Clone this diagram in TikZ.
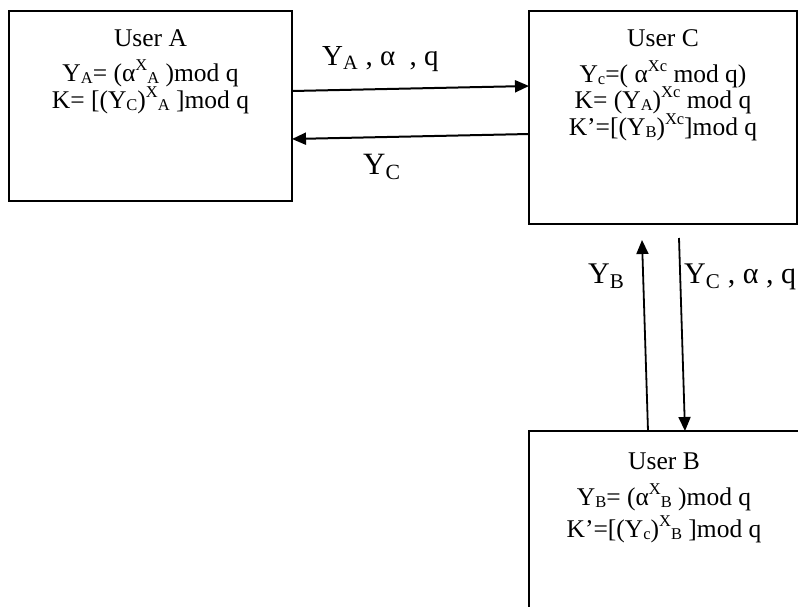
\documentclass[tikz,border=0pt]{standalone}
\usepackage{fontspec}
\setmainfont{Liberation Serif}
\usetikzlibrary{arrows.meta, positioning, calc}
\newcommand{\hi}[1]{\raisebox{0.4em}{\fontsize{16.5}{17}\selectfont #1}}
\newcommand{\lo}[1]{\raisebox{-0.08em}{\fontsize{16.5}{17}\selectfont #1}}

\begin{document}
\begin{tikzpicture}[
  x=1pt, y=-1pt,
  user/.style={
    rectangle, draw=black, line width=1.2pt,
    inner sep=0pt, outer sep=0pt, anchor=north west
  },
  eqn/.style={anchor=base, inner sep=0pt, font=\fontsize{25.5}{28}\selectfont},
  msg/.style={anchor=base west, inner sep=0pt, font=\fontsize{29}{32}\selectfont},
  >={Triangle[length=14pt, width=12pt]}
]
\useasboundingbox (0,0) rectangle (798,606);
\clip (0,0) rectangle (798,606);

% the three users
\node[user, minimum width=283pt, minimum height=190pt] (boxA) at (9,11) {};
\node[user, minimum width=268pt, minimum height=213pt, right=237pt of boxA.north east, anchor=north west] (boxC) {};
\node[user, minimum width=300pt, minimum height=240pt, below=207pt of boxC.south west, anchor=north west] (boxB) {};

\node[eqn] (a1) at ($(boxA.north)+(0,35)$) {User A};
\node[eqn] (a2) at ($(boxA.north)+(0,70)$) {Y\lo{A}= (α\hi{X}\lo{A} )mod q};
\node[eqn] (a3) at ($(boxA.north)+(0,97)$) {K= [(Y\lo{C})\hi{X}\lo{A} ]mod q};

\node[eqn] (c1) at ($(boxC.north)+(0,35)$) {User C};
\node[eqn] (c2) at ($(boxC.north)+(0,71)$) {Y\lo{c}=( α\hi{Xc} mod q)};
\node[eqn] (c3) at ($(boxC.north)+(0,97)$) {K= (Y\lo{A})\hi{Xc} mod q};
\node[eqn] (c4) at ($(boxC.north)+(0,124)$) {K’=[(Y\lo{B})\hi{Xc}]mod q};

\node[eqn] (b1) at ($(boxB.north west)+(135,38)$) {User B};
\node[eqn] (b2) at ($(boxB.north west)+(135,74)$) {Y\lo{B}= (α\hi{X}\lo{B} )mod q};
\node[eqn] (b3) at ($(boxB.north west)+(135,106)$) {K’=[(Y\lo{c})\hi{X}\lo{B} ]mod q};

% messages
\draw[->, line width=2pt] ($(boxA.north east)+(0,80)$) -- ($(boxC.north west)+(0,75)$);
\draw[->, line width=2pt] ($(boxC.north west)+(0,123)$) -- ($(boxA.north east)+(0,128)$);
\draw[->, line width=1.8pt] ($(boxB.north west)+(119,0)$) -- ($(boxC.south west)+(113,16)$);
\draw[->, line width=1.8pt] ($(boxC.south west)+(150,14)$) -- ($(boxB.north west)+(156,0)$);

\node[msg] (lblAC) at (322,65) {Y\textsubscript{A} , α~~, q};
\node[msg, font=\fontsize{31}{34}\selectfont] (lblCA) at (363,174) {Y\textsubscript{C}};
\node[msg, font=\fontsize{30}{33}\selectfont] (lblBC) at (588,283) {Y\textsubscript{B}};
\node[msg, font=\fontsize{30}{33}\selectfont] (lblCB) at (684,283) {Y\textsubscript{C} , α , q};
\end{tikzpicture}
\end{document}
